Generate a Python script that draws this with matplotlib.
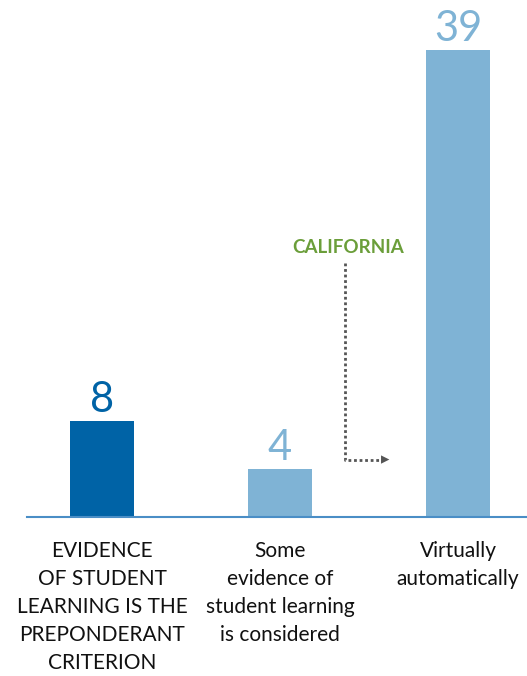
import matplotlib.pyplot as plt

categories = ["EVIDENCE\nOF STUDENT\nLEARNING IS THE\nPREPONDERANT\nCRITERION",
              "Some\nevidence of\nstudent learning\nis considered",
              "Virtually\nautomatically"]
values = [8, 4, 39]
bar_colors = ["#0063a6", "#7fb3d5", "#7fb3d5"]

W, H = 527, 676
fig = plt.figure(figsize=(W / 100, H / 100), dpi=100)
base_px = 517
ax = fig.add_axes([0, (H - base_px) / H, 1, base_px / H])
ax.set_xlim(-102 / 178, (W - 102) / 178)
ax.set_ylim(0, base_px / 11.97)
ax.axis("off")

x = range(len(values))
ax.bar(x, values, width=64 / 178, color=bar_colors, zorder=2)
ax.plot([-0.42, 2.4], [0, 0], color="#4a8ec6", lw=1.5, zorder=3, clip_on=False)

for xi, v, c in zip(x, values, bar_colors):
    ax.text(xi, v + 0.15, str(v), ha="center", va="bottom", color=c,
            fontsize=30, family="Lato")

for xi, lab in zip(x, categories):
    ax.text(xi, -2.0, lab, ha="center", va="top", fontsize=15,
            family="Lato", linespacing=1.5, color="#111111", clip_on=False)

# California annotation
ax.text(1.38, 22.5, "CALIFORNIA", ha="center", va="center", color="#6b9e3a",
        fontsize=13.5, family="Lato", fontweight="bold")
ax.plot([1.365, 1.365, 1.57], [21.2, 4.8, 4.8], color="#555555", lw=2,
        linestyle=(0, (1, 1)))
ax.annotate("", xy=(1.63, 4.8), xytext=(1.56, 4.8),
            arrowprops=dict(arrowstyle="-|>,head_length=0.6,head_width=0.3",
                            color="#555555", lw=0))

fig.savefig("out.png", dpi=100)
